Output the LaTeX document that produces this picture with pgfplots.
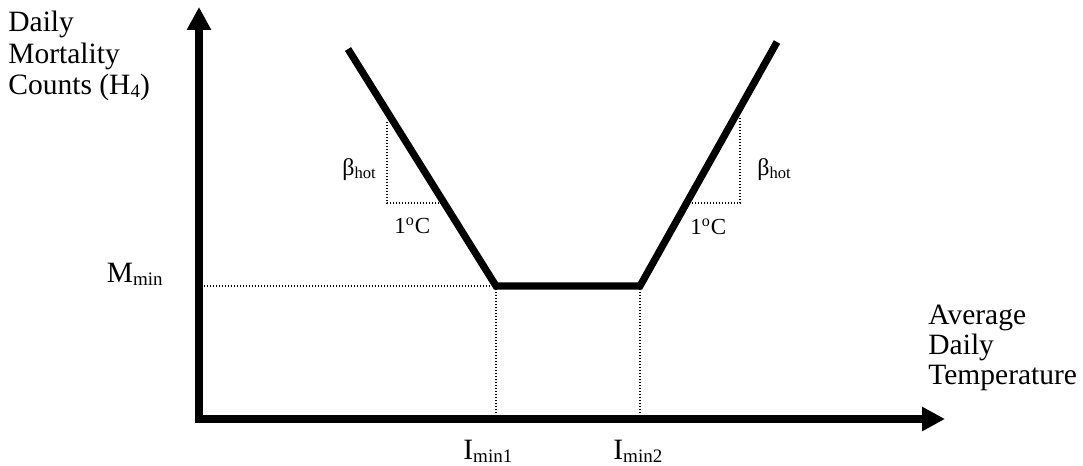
\documentclass[border=0pt]{standalone}
\usepackage{pgfplots}
\pgfplotsset{compat=1.18}
\usepackage{fontspec}
\setmainfont{Liberation Serif}
\usetikzlibrary{arrows.meta}

% lowered small text for subscripts
\newcommand{\sub}[2][9.5pt]{\raisebox{-1.3pt}{\fontsize{#1}{#1}\selectfont #2}}

\begin{document}
\begin{tikzpicture}
\begin{axis}[
  width=541.5pt, height=233pt, scale only axis,
  xmin=0, xmax=1083, ymin=0, ymax=466,
  hide axis, clip=false,
]
% frame that fixes the picture's extent
\addplot[draw=none, forget plot] coordinates {(0,0) (1083,466)};

% axes with arrow heads
\addplot[black, line width=4pt, -{Triangle[length=11.5pt,width=11.5pt]}]
  coordinates {(199,44) (199,459)};
\addplot[black, line width=4pt, -{Triangle[length=11.5pt,width=11.5pt]}]
  coordinates {(195,47) (945,47)};

% dotted guide lines
\addplot[black, line width=0.7pt, dash pattern=on 0.6pt off 0.9pt]
  coordinates {(204,180) (496,180)};
\addplot[black, line width=0.7pt, dash pattern=on 0.6pt off 0.9pt]
  coordinates {(496,180) (496,49)};
\addplot[black, line width=0.7pt, dash pattern=on 0.6pt off 0.9pt]
  coordinates {(640,180) (640,49)};
% slope triangles
\addplot[black, line width=0.7pt, dash pattern=on 0.6pt off 0.9pt]
  coordinates {(387,344) (387,263) (442,263)};
\addplot[black, line width=0.7pt, dash pattern=on 0.6pt off 0.9pt]
  coordinates {(689,263) (740,263) (740,348)};

% mortality-temperature relationship
\addplot[black, line width=3.6pt, line join=miter]
  coordinates {(348,417) (496,180) (640,180) (777,424)};

% labels
\node[anchor=base west, inner sep=0pt, font=\fontsize{14.75}{16}\selectfont] at (axis cs:8,434) {Daily};
\node[anchor=base west, inner sep=0pt, font=\fontsize{14.75}{16}\selectfont] at (axis cs:8,402) {Mortality};
\node[anchor=base west, inner sep=0pt, font=\fontsize{14.75}{16}\selectfont] at (axis cs:8,371) {Counts (H\sub{4})};

\node[anchor=base west, inner sep=0pt, font=\fontsize{14.75}{16}\selectfont] at (axis cs:928,141) {Average};
\node[anchor=base west, inner sep=0pt, font=\fontsize{14.75}{16}\selectfont] at (axis cs:928,111) {Daily};
\node[anchor=base west, inner sep=0pt, font=\fontsize{14.75}{16}\selectfont] at (axis cs:928,81) {Temperature};

\node[anchor=base east, inner sep=0pt, font=\fontsize{14.75}{16}\selectfont] at (axis cs:163,183) {M\sub{min}};
\node[anchor=base west, inner sep=0pt, font=\fontsize{14.75}{16}\selectfont] at (axis cs:463,6) {I\sub{min1}};
\node[anchor=base west, inner sep=0pt, font=\fontsize{14.75}{16}\selectfont] at (axis cs:613,6) {I\sub{min2}};

\node[anchor=base west, inner sep=0pt, font=\fontsize{12}{12}\selectfont] at (axis cs:342,290) {β\sub[8.3pt]{hot}};
\node[anchor=base west, inner sep=0pt, font=\fontsize{12}{12}\selectfont] at (axis cs:757,290) {β\sub[8.3pt]{hot}};

\node[anchor=base west, inner sep=0pt, font=\fontsize{11.5}{12}\selectfont] at (axis cs:394,232) {1\textsuperscript{o}C};
\node[anchor=base west, inner sep=0pt, font=\fontsize{11.5}{12}\selectfont] at (axis cs:690,231) {1\textsuperscript{o}C};
\end{axis}
\end{tikzpicture}
\end{document}
